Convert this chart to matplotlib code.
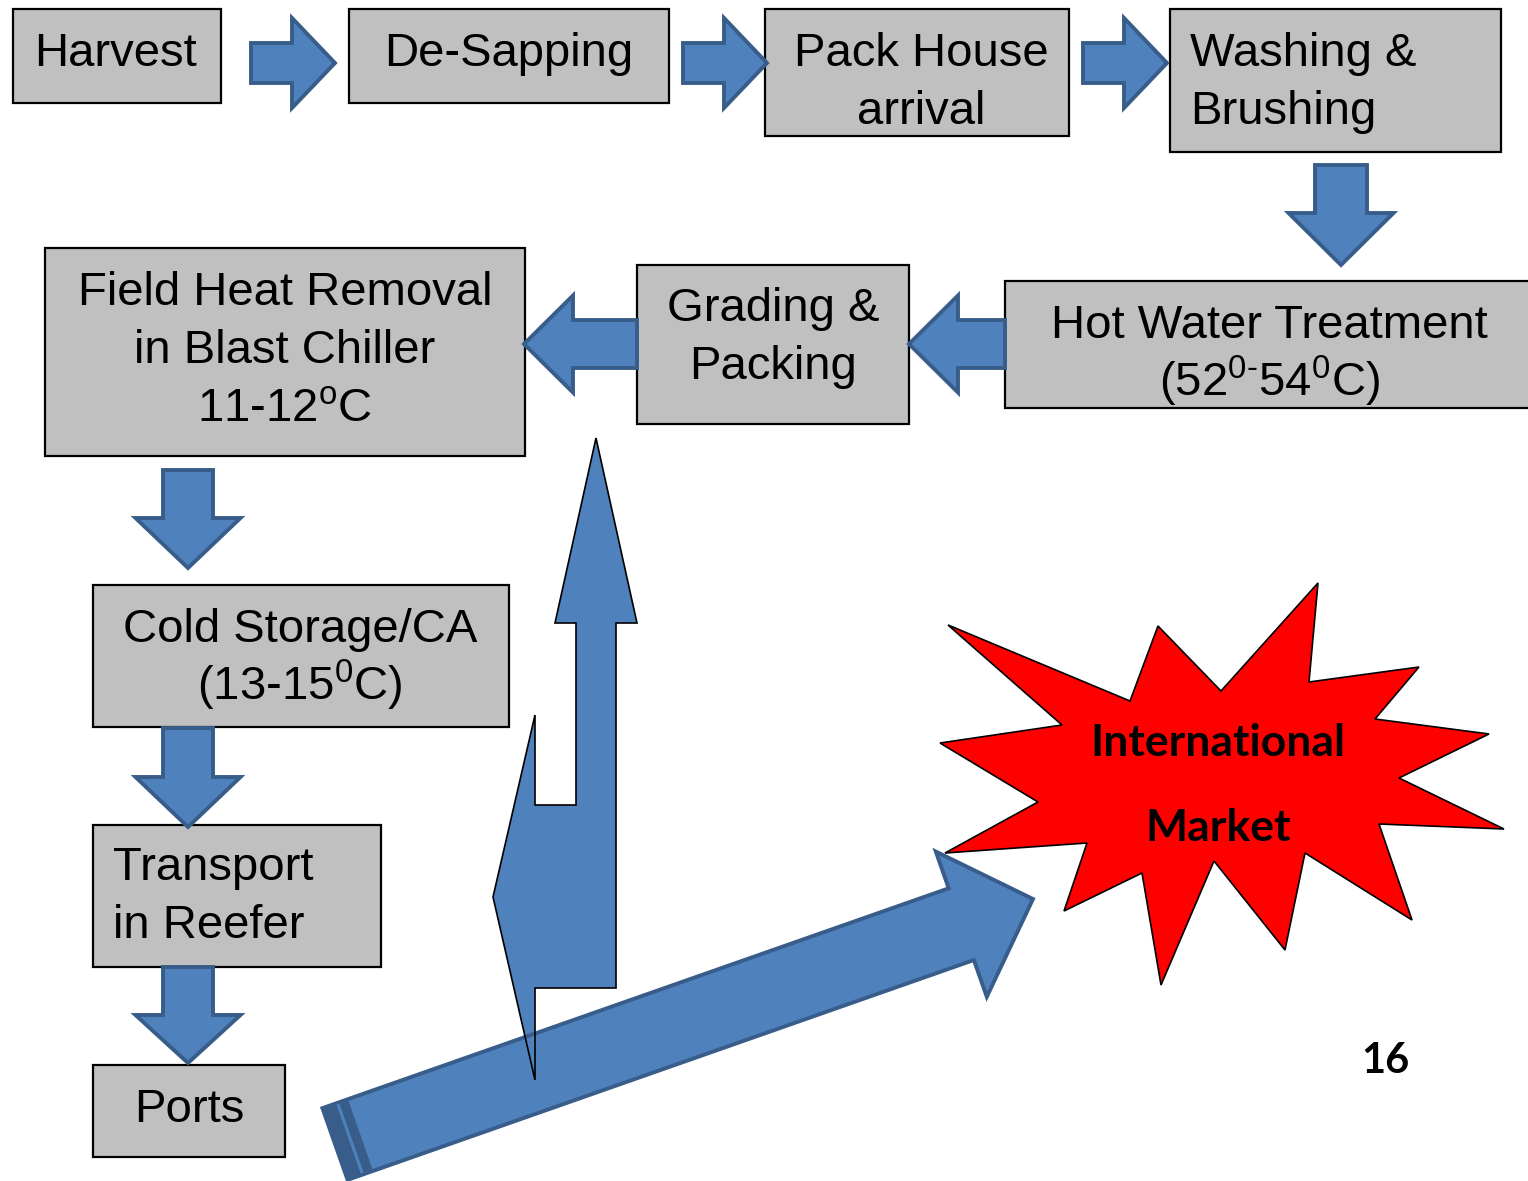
import matplotlib.pyplot as plt
from matplotlib.patches import Polygon, Rectangle
import numpy as np

plt.rcParams['font.family'] = ['Liberation Sans', 'DejaVu Sans']
plt.rcParams['mathtext.fontset'] = 'custom'
plt.rcParams['mathtext.rm'] = 'Liberation Sans'
plt.rcParams['mathtext.it'] = 'Liberation Sans:italic'
plt.rcParams['mathtext.bf'] = 'Liberation Sans:bold'

# step labels, one list entry per line
steps = [
    ['Harvest'],
    ['De-Sapping'],
    ['Pack House', 'arrival'],
    ['Washing &', 'Brushing'],
    ['Hot Water Treatment', r'(52$^{\mathrm{0}\text{-}}$54$^{\mathrm{0}}$C)'],
    ['Grading &', 'Packing'],
    ['Field Heat Removal', 'in Blast Chiller', r'11-12$^{\mathrm{o}}$C'],
    ['Cold Storage/CA', r'(13-15$^{\mathrm{0}}$C)'],
    ['Transport', 'in Reefer'],
    ['Ports'],
]
market = ['International', 'Market']
page_no = '16'

# layout in pixels: box (x0, y0, x1, y1), text x, first baseline, alignment
boxes = [(13, 9, 221, 103), (349, 9, 669, 103), (765, 9, 1069, 136),
         (1170, 9, 1501, 152), (1005, 281, 1532, 408), (637, 265, 909, 424),
         (45, 248, 525, 456), (93, 585, 509, 727), (93, 825, 381, 967),
         (93, 1065, 285, 1157)]
text_pos = [(115, 66, 'center'), (509, 66, 'center'), (921, 66, 'center'),
            (1190, 66, 'left'), (1269, 338, 'center'), (773, 321, 'center'),
            (285, 305, 'center'), (300, 642, 'center'), (113, 880, 'left'),
            (189, 1122, 'center')]
line_pitch = 58

# connector arrows: tail, tip, shaft width, head width, head length
arrows = [((251, 63), (335, 63), 40, 90, 43),
          ((683, 63), (767, 63), 40, 90, 43),
          ((1083, 63), (1167, 63), 40, 90, 43),
          ((1341, 165), (1341, 265), 52, 105, 52),
          ((1005, 344), (909, 344), 48, 97, 49),
          ((637, 344), (524, 344), 48, 97, 49),
          ((188, 470), (188, 568), 50, 105, 50),
          ((188, 728), (188, 827), 50, 105, 50),
          ((188, 967), (188, 1063), 50, 105, 48)]
export_arrow = ((335, 1144), (1033, 899), 76, 154, 76)

up_arrow = [(596, 438), (637, 623), (616, 623), (616, 988), (535, 988),
            (535, 1080), (493, 897), (535, 715), (535, 805), (576, 805),
            (576, 623), (555, 623)]

star = [(948, 625), (1130, 701), (1158, 626), (1221, 691), (1318, 583),
        (1309, 682), (1419, 667), (1375, 719), (1489, 734), (1399, 778),
        (1504, 829), (1379, 824), (1412, 920), (1305, 853), (1285, 950),
        (1214, 861), (1161, 985), (1142, 873), (1064, 911), (1087, 843),
        (945, 853), (1038, 802), (940, 743), (1062, 725)]

blue = '#4F81BD'
blue_edge = '#385D8A'
grey = '#C0C0C0'

fig = plt.figure(figsize=(15.28, 11.81), dpi=100)
ax = fig.add_axes([0, 0, 1, 1])
ax.set_xlim(0, 1528)
ax.set_ylim(1181, 0)
ax.axis('off')


def arrow_points(tail, tip, shaft_w, head_w, head_len):
    tail = np.array(tail, float)
    tip = np.array(tip, float)
    u = (tip - tail) / np.hypot(*(tip - tail))
    n = np.array([-u[1], u[0]])
    base = tip - u * head_len
    return [tail + n * shaft_w / 2, base + n * shaft_w / 2, base + n * head_w / 2, tip,
            base - n * head_w / 2, base - n * shaft_w / 2, tail - n * shaft_w / 2], u, n


# boxes and their text
for (x0, y0, x1, y1), lines, (tx, ty, ha) in zip(boxes, steps, text_pos):
    ax.add_patch(Rectangle((x0, y0), x1 - x0, y1 - y0, facecolor=grey,
                           edgecolor='black', linewidth=1.6, zorder=2))
    for i, line in enumerate(lines):
        ax.text(tx, ty + i * line_pitch, line, fontsize=34, ha=ha, va='baseline',
                color='black', zorder=5)

for tail, tip, sw, hw, hl in arrows:
    pts, _, _ = arrow_points(tail, tip, sw, hw, hl)
    ax.add_patch(Polygon(pts, closed=True, facecolor=blue, edgecolor=blue_edge,
                         linewidth=2.8, joinstyle='miter', zorder=3))

# starburst
ax.add_patch(Polygon(star, closed=True, facecolor='#FF0000', edgecolor='black',
                     linewidth=1.2, zorder=1))
for i, word in enumerate(market):
    ax.text(1218, 756 + i * 85, word, fontsize=32, fontweight='bold',
            family=['Lato', 'DejaVu Sans'], ha='center', va='baseline', zorder=6)

# big up arrow (fill first, outline after the export arrow)
ax.add_patch(Polygon(up_arrow, closed=True, facecolor=blue, edgecolor='none', zorder=2))

pts, u, n = arrow_points(*export_arrow)
ax.add_patch(Polygon(pts, closed=True, facecolor=blue, edgecolor=blue_edge,
                     linewidth=2.8, joinstyle='miter', zorder=3))
tail = np.array(export_arrow[0], float)
w = export_arrow[2] / 2
band = [tail + n * w, tail + n * w + u * 27, tail - n * w + u * 27, tail - n * w]
ax.add_patch(Polygon(band, closed=True, facecolor=blue_edge, edgecolor='none', zorder=3.1))
light = [tail + n * (w - 3) + u * 16, tail - n * (w - 3) + u * 16]
ax.plot([p[0] for p in light], [p[1] for p in light], color=blue, linewidth=2.2, zorder=3.2)

ax.add_patch(Polygon(up_arrow, closed=True, facecolor='none', edgecolor='black',
                     linewidth=1.2, zorder=4))

ax.text(1385, 1073, page_no, fontsize=30, fontweight='bold',
        family=['Lato', 'DejaVu Sans'], ha='center', va='baseline', zorder=6)

plt.savefig('out.png', dpi=100)
